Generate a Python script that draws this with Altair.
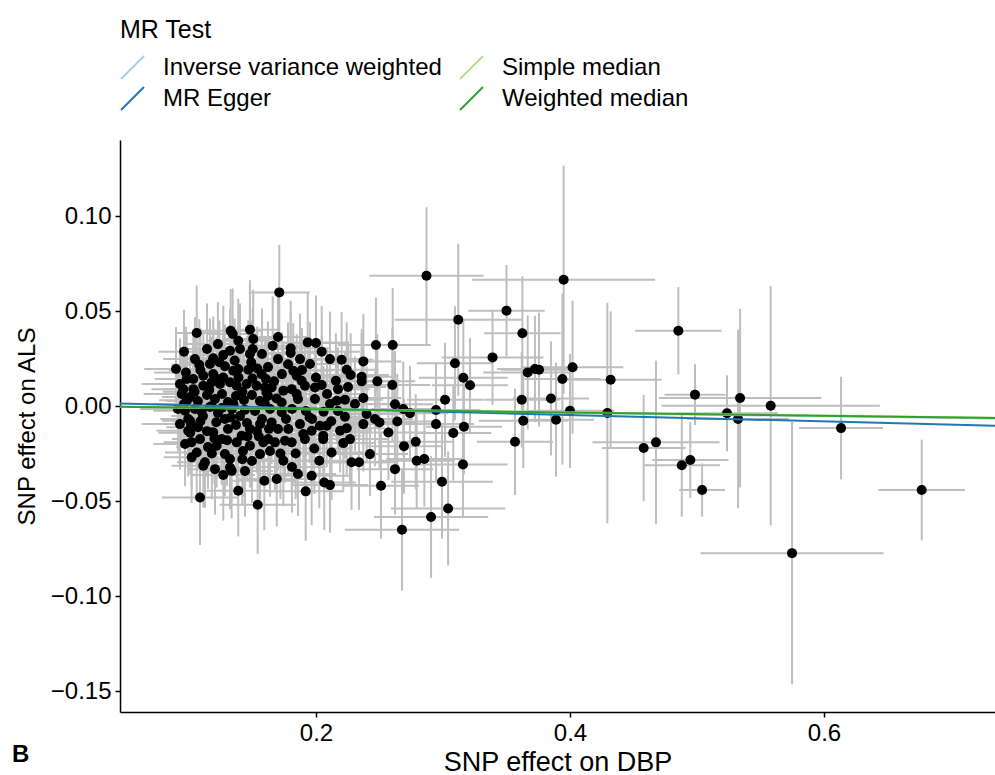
import altair as alt
import pandas as pd

# SNP effects on DBP (x) and ALS (y) with 95% CI half-widths
dbp_beta = [
    0.287, 0.395, 0.312, 0.350, 0.3625, 0.339, 0.3667, 0.3724, 0.3756, 0.402,
    0.394, 0.432, 0.4853, 0.362, 0.385, 0.400, 0.4294, 0.3632, 0.389, 0.3567,
    0.458, 0.4677, 0.488, 0.4947, 0.4984, 0.504, 0.5339, 0.5236, 0.5323, 0.558,
    0.6134, 0.6769, 0.5748, 0.3094, 0.316, 0.3213, 0.3016, 0.2945, 0.2945, 0.3165,
    0.3081, 0.3157, 0.2992, 0.304, 0.2906, 0.2677, 0.2785, 0.2693, 0.2793, 0.2853,
    0.2512, 0.2472, 0.2604, 0.2601, 0.2483, 0.2622, 0.2687, 0.274, 0.264, 0.257,
    0.2373, 0.236, 0.236, 0.2373, 0.2307, 0.2373, 0.228, 0.2339, 0.2215, 0.219,
    0.2242, 0.2228, 0.2228, 0.2163, 0.2157, 0.2242, 0.2273, 0.2202, 0.211, 0.2123,
    0.211, 0.250,
    0.1711, 0.1061, 0.0961, 0.1081, 0.1328, 0.148, 0.1344, 0.1388, 0.1506, 0.1502,
    0.148, 0.1659, 0.1801, 0.1801, 0.1935, 0.200, 0.2045, 0.1191, 0.127, 0.1323,
    0.1402, 0.1283, 0.0976, 0.1388, 0.1467, 0.1538, 0.1572, 0.1606, 0.1821, 0.1848,
    0.1887, 0.2399, 0.2026, 0.1987, 0.2057, 0.1966, 0.2065, 0.1919, 0.1743, 0.1691,
    0.1593, 0.1541, 0.1388, 0.1087, 0.127, 0.1323, 0.1336, 0.1126, 0.1113, 0.1021,
    0.1061, 0.0994, 0.1008, 0.1016, 0.0969, 0.0943, 0.0955, 0.0982,
    0.1349, 0.1034, 0.1113, 0.1191, 0.1218, 0.1034, 0.1113, 0.1179, 0.1244, 0.1323,
    0.1376, 0.1454, 0.1533, 0.1598, 0.1008, 0.107, 0.1142, 0.1205, 0.126, 0.1307,
    0.137, 0.1433, 0.1496, 0.1559, 0.1622, 0.1913, 0.1992, 0.2045, 0.1651, 0.1743,
    0.1809, 0.1848, 0.1598, 0.173, 0.1858, 0.1992, 0.1651, 0.173, 0.1782, 0.1874,
    0.190, 0.1913, 0.1966, 0.2031, 0.2084, 0.2057, 0.2465, 0.1624, 0.1677, 0.1756,
    0.1809, 0.1323, 0.1218, 0.1257, 0.1191, 0.1376, 0.1415, 0.148, 0.1585, 0.1559,
    0.148, 0.0994, 0.0961, 0.1047, 0.111, 0.1165, 0.1228, 0.1283, 0.1339, 0.1402,
    0.1457, 0.152, 0.1575, 0.1638, 0.1071, 0.1142, 0.1307, 0.137, 0.1535, 0.1087,
    0.1150, 0.1425, 0.1283, 0.1638, 0.1701, 0.1764, 0.1811, 0.1921, 0.1969, 0.211,
    0.2173, 0.2087, 0.2173, 0.2252, 0.1953, 0.1874, 0.1701, 0.1622, 0.1732, 0.1165,
    0.1047, 0.1142, 0.1228, 0.1575, 0.1701, 0.1811, 0.1858, 0.1441, 0.1496, 0.1205,
    0.0969, 0.0929, 0.0913, 0.0929, 0.0898, 0.2268, 0.2425, 0.2622,
    0.0985, 0.1045, 0.1100, 0.1160, 0.1215, 0.1270, 0.1330, 0.1390, 0.1440, 0.1500,
    0.1560, 0.1610, 0.1020, 0.1090, 0.1180, 0.1240, 0.1300, 0.1360, 0.1420, 0.1490,
    0.1550, 0.1670, 0.1720, 0.1780, 0.1840, 0.1890, 0.1950, 0.2000, 0.2060, 0.2120,
    0.1180, 0.1260, 0.1350, 0.1420, 0.1090, 0.1010, 0.1200, 0.1460, 0.1630, 0.1690,
]
als_beta = [
    0.0686, 0.0665, 0.0454, 0.0502, 0.0383, 0.0256, 0.0177, 0.0195, 0.0191, 0.0204,
    0.0142, 0.0138, 0.0396, 0.0033, 0.0040, -0.0025, -0.0037, -0.0077, -0.0072, -0.0188,
    -0.0221, -0.0191, -0.0312, -0.0284, 0.0060, -0.0442, 0.0042, -0.0038, -0.0068, 0.0002,
    -0.0116, -0.0442, -0.0774, 0.0225, 0.0149, 0.0109, 0.0033, -0.0021, -0.0095, -0.0109,
    -0.0142, -0.0307, -0.0398, -0.0539, -0.0584, -0.0651, -0.0188, -0.0211, -0.0288, -0.0279,
    -0.0419, 0.0321, 0.0321, 0.0111, 0.0130, 0.0009, -0.0016, -0.0038, -0.0081, -0.0139,
    0.0235, 0.0154, 0.0130, 0.0042, 0.0011, -0.0095, -0.0296, -0.0296, -0.0195, -0.0130,
    -0.0117, -0.0056, 0.0033, 0.0028, 0.0133, 0.0191, 0.0163, 0.0244, 0.0247, -0.0244,
    -0.0416, -0.0086,
    0.0598, 0.0384, 0.0286, 0.0217, 0.0396, 0.0402, 0.0379, 0.0344, 0.0353, 0.0300,
    0.0274, 0.0317, 0.0304, 0.0279, 0.0335, 0.0332, 0.0286, 0.0251, 0.0268, 0.0291,
    0.0300, 0.0209, 0.0177, 0.0195, 0.0191, 0.0198, 0.0168, 0.0142, 0.0186, 0.0159,
    0.0133, -0.0042, -0.0288, -0.0223, -0.0174, -0.0367, -0.0402, -0.0449, -0.0288, -0.0384,
    -0.0393, -0.0519, -0.0446, -0.0481, -0.0363, -0.0323, -0.0341, -0.0296, -0.0314, -0.0270,
    -0.0244, -0.0130, -0.0077, -0.0095, -0.0025, 0.0063, 0.0089, 0.0142,
    0.0186, 0.0142, 0.0159, 0.0168, 0.0142, 0.0089, 0.0107, 0.0125, 0.0116, 0.0125,
    0.0107, 0.0116, 0.0107, 0.0098, 0.0047, 0.0026, 0.0058, 0.0037, 0.0063, 0.0021,
    0.0053, 0.0032, 0.0058, 0.0026, 0.0053, 0.0107, 0.0098, 0.0111, 0.0098, 0.0081,
    0.0089, 0.0063, 0.0011, 0.0019, 0.0037, 0.0037, -0.0086, -0.0033, -0.0121, -0.0095,
    -0.0147, -0.0174, -0.0130, -0.0104, -0.0104, -0.0156, -0.0068, -0.0174, -0.0191, -0.0183,
    -0.0191, -0.0279, -0.0209, -0.0174, -0.0138, -0.0191, -0.0156, -0.0121, -0.0191, -0.0253,
    -0.0209, -0.0068, 0.0011, -0.0016, -0.0053, -0.0005, -0.0037, -0.0068, -0.0016, -0.0053,
    -0.0089, -0.0026, -0.0068, -0.0016, -0.0111, -0.0132, -0.0121, -0.0100, -0.0132, -0.0174,
    -0.0216, -0.0237, -0.0253, -0.0237, -0.0121, -0.0068, -0.0016, -0.0026, -0.0068, 0.0011,
    -0.0026, 0.0063, 0.0089, 0.0100, 0.0221, 0.0247, 0.0247, 0.0205, 0.0168, 0.0221,
    0.0247, 0.0300, 0.0326, 0.0274, 0.0363, -0.0321, -0.0358, -0.0342, -0.0289, -0.0332,
    -0.0200, -0.0095, -0.0016, 0.0116, 0.0195, -0.0174, -0.0253, -0.0332,
    0.0030, 0.0075, -0.0030, 0.0085, -0.0085, 0.0150, -0.0060, 0.0150, -0.0020, 0.0145,
    -0.0095, 0.0070, -0.0190, 0.0190, -0.0250, 0.0230, -0.0180, 0.0240, -0.0280, 0.0230,
    -0.0160, 0.0130, -0.0250, 0.0220, -0.0250, 0.0190, -0.0060, 0.0150, -0.0030, -0.0080,
    0.0000, -0.0010, 0.0010, 0.0075, -0.0080, -0.0140, -0.0170, -0.0160, -0.0120, 0.0040,
]
dbp_ci = [
    0.045, 0.072, 0.050, 0.030, 0.030, 0.040, 0.035, 0.030, 0.030, 0.040,
    0.030, 0.040, 0.034, 0.030, 0.030, 0.035, 0.040, 0.035, 0.030, 0.030,
    0.033, 0.050, 0.030, 0.030, 0.024, 0.018, 0.064, 0.040, 0.040, 0.086,
    0.033, 0.034, 0.072, 0.030, 0.035, 0.030, 0.030, 0.035, 0.030, 0.030,
    0.030, 0.035, 0.040, 0.045, 0.045, 0.045, 0.030, 0.030, 0.030, 0.030,
    0.030, 0.030, 0.030, 0.030, 0.030, 0.030, 0.025, 0.030, 0.030, 0.030,
    0.030, 0.025, 0.030, 0.030, 0.025, 0.025, 0.030, 0.030, 0.025, 0.025,
    0.030, 0.025, 0.030, 0.025, 0.030, 0.025, 0.030, 0.025, 0.030, 0.025,
    0.030, 0.030,
    0.024, 0.017, 0.020, 0.022, 0.025, 0.022, 0.020, 0.025, 0.022, 0.025,
    0.020, 0.025, 0.030, 0.025, 0.030, 0.025, 0.030, 0.022, 0.025, 0.020,
    0.025, 0.022, 0.025, 0.020, 0.025, 0.022, 0.025, 0.020, 0.030, 0.025,
    0.030, 0.030, 0.025, 0.030, 0.025, 0.030, 0.025, 0.030, 0.025, 0.030,
    0.025, 0.030, 0.025, 0.030, 0.025, 0.022, 0.025, 0.022, 0.025, 0.022,
    0.025, 0.025, 0.022, 0.025, 0.025, 0.030, 0.025, 0.025,
    0.022, 0.025, 0.022, 0.025, 0.022, 0.025, 0.022, 0.025, 0.022, 0.025,
    0.022, 0.025, 0.022, 0.025, 0.022, 0.025, 0.022, 0.025, 0.022, 0.025,
    0.022, 0.025, 0.022, 0.025, 0.022, 0.030, 0.025, 0.030, 0.025, 0.030,
    0.025, 0.030, 0.025, 0.030, 0.025, 0.030, 0.025, 0.030, 0.025, 0.030,
    0.025, 0.030, 0.025, 0.030, 0.025, 0.030, 0.030, 0.025, 0.030, 0.025,
    0.030, 0.022, 0.025, 0.022, 0.025, 0.022, 0.025, 0.022, 0.025, 0.022,
    0.025, 0.022, 0.025, 0.022, 0.025, 0.022, 0.025, 0.022, 0.025, 0.022,
    0.025, 0.022, 0.025, 0.022, 0.025, 0.022, 0.025, 0.022, 0.025, 0.022,
    0.025, 0.022, 0.025, 0.022, 0.025, 0.030, 0.025, 0.030, 0.025, 0.030,
    0.025, 0.030, 0.025, 0.030, 0.025, 0.030, 0.025, 0.022, 0.025, 0.022,
    0.025, 0.022, 0.025, 0.022, 0.025, 0.025, 0.030, 0.022, 0.025, 0.022,
    0.025, 0.030, 0.030, 0.030, 0.025, 0.030, 0.030, 0.030,
    0.022, 0.025, 0.022, 0.025, 0.022, 0.025, 0.022, 0.025, 0.022, 0.025,
    0.022, 0.025, 0.022, 0.025, 0.022, 0.025, 0.022, 0.025, 0.022, 0.025,
    0.022, 0.025, 0.022, 0.025, 0.022, 0.025, 0.030, 0.025, 0.030, 0.025,
    0.022, 0.025, 0.022, 0.025, 0.022, 0.025, 0.022, 0.025, 0.022, 0.025,
]
als_ci = [
    0.036, 0.060, 0.040, 0.024, 0.030, 0.025, 0.030, 0.028, 0.030, 0.035,
    0.045, 0.036, 0.023, 0.025, 0.030, 0.030, 0.058, 0.025, 0.030, 0.028,
    0.028, 0.043, 0.027, 0.020, 0.016, 0.014, 0.047, 0.020, 0.047, 0.063,
    0.027, 0.0265, 0.069, 0.030, 0.030, 0.025, 0.030, 0.025, 0.030, 0.025,
    0.025, 0.028, 0.030, 0.030, 0.032, 0.032, 0.025, 0.025, 0.025, 0.025,
    0.028, 0.025, 0.030, 0.030, 0.025, 0.028, 0.025, 0.025, 0.025, 0.025,
    0.025, 0.025, 0.025, 0.025, 0.025, 0.025, 0.025, 0.025, 0.025, 0.022,
    0.025, 0.022, 0.025, 0.022, 0.025, 0.025, 0.022, 0.025, 0.025, 0.025,
    0.025, 0.025,
    0.025, 0.025, 0.022, 0.024, 0.022, 0.026, 0.024, 0.022, 0.026, 0.022,
    0.024, 0.026, 0.025, 0.022, 0.026, 0.025, 0.024, 0.022, 0.026, 0.022,
    0.024, 0.022, 0.024, 0.022, 0.026, 0.022, 0.024, 0.022, 0.025, 0.022,
    0.026, 0.025, 0.025, 0.024, 0.022, 0.026, 0.025, 0.026, 0.024, 0.025,
    0.026, 0.026, 0.024, 0.025, 0.024, 0.022, 0.025, 0.024, 0.022, 0.024,
    0.022, 0.024, 0.022, 0.024, 0.022, 0.024, 0.022, 0.024,
    0.022, 0.024, 0.022, 0.024, 0.022, 0.024, 0.022, 0.024, 0.022, 0.024,
    0.022, 0.024, 0.022, 0.024, 0.022, 0.024, 0.022, 0.024, 0.022, 0.024,
    0.022, 0.024, 0.022, 0.024, 0.022, 0.025, 0.024, 0.025, 0.022, 0.025,
    0.024, 0.025, 0.022, 0.025, 0.024, 0.025, 0.022, 0.025, 0.024, 0.025,
    0.022, 0.025, 0.024, 0.025, 0.022, 0.025, 0.025, 0.024, 0.025, 0.022,
    0.025, 0.024, 0.022, 0.024, 0.022, 0.024, 0.022, 0.024, 0.022, 0.024,
    0.022, 0.024, 0.022, 0.024, 0.022, 0.024, 0.022, 0.024, 0.022, 0.024,
    0.022, 0.024, 0.022, 0.024, 0.022, 0.024, 0.022, 0.024, 0.022, 0.024,
    0.022, 0.024, 0.022, 0.024, 0.022, 0.024, 0.022, 0.024, 0.022, 0.024,
    0.022, 0.024, 0.022, 0.024, 0.022, 0.024, 0.022, 0.024, 0.022, 0.024,
    0.022, 0.024, 0.022, 0.024, 0.022, 0.024, 0.022, 0.024, 0.022, 0.024,
    0.022, 0.024, 0.022, 0.024, 0.022, 0.024, 0.022, 0.024,
    0.024, 0.022, 0.024, 0.022, 0.024, 0.022, 0.024, 0.022, 0.024, 0.022,
    0.024, 0.022, 0.024, 0.022, 0.024, 0.022, 0.024, 0.022, 0.024, 0.022,
    0.024, 0.022, 0.024, 0.022, 0.024, 0.022, 0.024, 0.022, 0.024, 0.022,
    0.024, 0.022, 0.024, 0.022, 0.024, 0.022, 0.024, 0.022, 0.024, 0.022,
]

# MR estimates (slope through the SNP effects; Egger has an intercept)
methods = ["Inverse variance weighted", "MR Egger", "Simple median", "Weighted median"]
slopes = [-0.0089, -0.0170, -0.0083, -0.0086]
intercepts = [0.0, 0.0021, 0.0, 0.0]
method_colors = ["#a6cee3", "#1f78b4", "#b2df8a", "#33a02c"]

x_domain = [0.0457, 0.7346]
y_domain = [-0.161, 0.140]
x_ticks = [0.2, 0.4, 0.6]
y_ticks = [-0.15, -0.10, -0.05, 0.0, 0.05, 0.10]

FONT = "Liberation Sans"

snps = pd.DataFrame({"dbp": dbp_beta, "als": als_beta,
                     "dbp_ci": dbp_ci, "als_ci": als_ci})
fits = pd.DataFrame({"method": methods, "slope": slopes, "intercept": intercepts})

xs = alt.Scale(domain=x_domain, nice=False, zero=False)
ys = alt.Scale(domain=y_domain, nice=False, zero=False)

x_axis = alt.Axis(title="SNP effect on DBP", values=x_ticks, format=".1f",
                  grid=False, tickSize=5, labelPadding=4, titlePadding=4,
                  titleFontSize=27)
y_axis = alt.Axis(title="SNP effect on ALS", values=y_ticks, format=".2f",
                  grid=False, tickSize=5, labelPadding=4, titlePadding=11,
                  titleFontSize=24)

base = alt.Chart(snps)

vbars = base.transform_calculate(
    lo="datum.als - datum.als_ci", hi="datum.als + datum.als_ci"
).mark_rule(color="#bebebe", strokeWidth=2, clip=True).encode(
    x=alt.X("dbp:Q", scale=xs, axis=x_axis),
    y=alt.Y("lo:Q", scale=ys, axis=y_axis),
    y2="hi:Q",
)

hbars = base.transform_calculate(
    xlo="datum.dbp - datum.dbp_ci", xhi="datum.dbp + datum.dbp_ci"
).mark_rule(color="#bebebe", strokeWidth=2, clip=True).encode(
    x=alt.X("xlo:Q", scale=xs, axis=x_axis),
    x2="xhi:Q",
    y=alt.Y("als:Q", scale=ys, axis=y_axis),
)

points = base.mark_circle(color="black", opacity=1, size=100).encode(
    x=alt.X("dbp:Q", scale=xs, axis=x_axis),
    y=alt.Y("als:Q", scale=ys, axis=y_axis),
)

lines = alt.Chart(fits).transform_calculate(
    x0=str(x_domain[0]), x1=str(x_domain[1]),
    y0=f"datum.intercept + datum.slope * {x_domain[0]}",
    y1=f"datum.intercept + datum.slope * {x_domain[1]}",
).mark_rule(strokeWidth=2, clip=True).encode(
    x=alt.X("x0:Q", scale=xs, axis=x_axis),
    x2="x1:Q",
    y=alt.Y("y0:Q", scale=ys, axis=y_axis),
    y2="y1:Q",
    color=alt.Color(
        "method:N",
        scale=alt.Scale(domain=methods, range=method_colors),
        legend=alt.Legend(
            title="MR Test", orient="none", legendX=0, legendY=-122,
            columns=2, symbolType="M-1,1L1,-1", symbolSize=529,
            symbolStrokeWidth=2, labelOffset=18, columnPadding=14,
            rowPadding=0, titlePadding=12, labelLimit=500,
            labelFontSize=24, titleFontSize=25, labelFont=FONT, titleFont=FONT,
            titleFontWeight="normal", labelColor="black", titleColor="black",
        ),
    ),
)

tag = alt.Chart(pd.DataFrame({"t": ["B"]})).mark_text(
    font=FONT, fontSize=24, fontWeight="bold", align="left", baseline="middle",
    color="black",
).encode(x=alt.value(-108), y=alt.value(615), text="t:N")

chart = alt.layer(vbars, hbars, points, lines, tag).properties(
    width=875, height=572, background="white",
    padding={"left": 120, "top": 140, "right": 0, "bottom": 63},
    autosize=alt.AutoSizeParams(type="none"),
).configure_view(stroke=None).configure_axis(
    domainColor="black", domainWidth=1.5, tickColor="black", tickWidth=1.5,
    labelColor="black", titleColor="black", labelFont=FONT, titleFont=FONT,
    labelFontSize=24, titleFontWeight="normal",
)

chart.save("out.html", embed_options={"renderer": "svg", "actions": False})
